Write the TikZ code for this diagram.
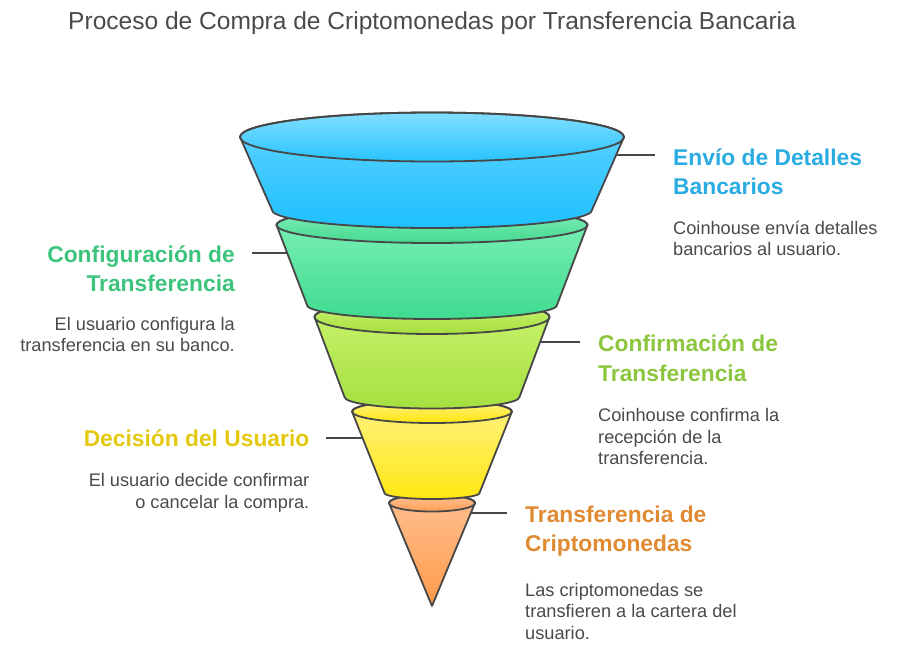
\documentclass[tikz,border=0pt]{standalone}
\usepackage{fontspec}
\setmainfont{Liberation Sans}
\definecolor{outl}{HTML}{474747}
\definecolor{txt}{HTML}{4A4A4A}
\definecolor{hblue}{HTML}{2AABE2}
\definecolor{hgreen}{HTML}{3CC47C}
\definecolor{hlime}{HTML}{8CC63F}
\definecolor{hyellow}{HTML}{E3C80E}
\definecolor{horange}{HTML}{E08A32}
\definecolor{bluE1}{HTML}{82DEFF}\definecolor{bluE2}{HTML}{28C3FF}
\definecolor{bluB1}{HTML}{62D4FF}\definecolor{bluB2}{HTML}{1EC0FF}
\definecolor{grnE1}{HTML}{86F2BF}\definecolor{grnE2}{HTML}{45D88F}
\definecolor{grnB1}{HTML}{80F2B9}\definecolor{grnB2}{HTML}{40DB90}
\definecolor{limE1}{HTML}{CFF47A}\definecolor{limE2}{HTML}{A5DF3C}
\definecolor{limB1}{HTML}{CAF46E}\definecolor{limB2}{HTML}{A6E040}
\definecolor{yelE1}{HTML}{FFF28A}\definecolor{yelE2}{HTML}{FFE50A}
\definecolor{yelB1}{HTML}{FFF385}\definecolor{yelB2}{HTML}{FFE712}
\definecolor{orgE1}{HTML}{FFC496}\definecolor{orgE2}{HTML}{FF9D55}
\definecolor{orgB1}{HTML}{FFC092}\definecolor{orgB2}{HTML}{FF9A48}
\begin{document}
\begin{tikzpicture}[x=1pt,y=1pt,
  edge/.style={draw=outl, line width=1.8pt, line join=round},
  conn/.style={draw=outl, line width=1.6pt},
  head/.style={font=\fontsize{22.8}{29.4}\selectfont\bfseries, inner sep=0pt},
  body/.style={font=\fontsize{18.2}{21.5}\selectfont, text=txt, inner sep=0pt},
]
\useasboundingbox (0,0) rectangle (910,-670);

% ---- orange segment (tip)
\path[top color=orgB1, bottom color=orgB2] (389,-503) -- (432,-606) -- (475,-503)
  arc[start angle=0,end angle=180,x radius=43,y radius=8.5] -- cycle;
\path[top color=orgE1, bottom color=orgE2] (432,-503) ellipse[x radius=43,y radius=8.5];
\draw[edge] (389,-503) -- (432,-606) -- (475,-503)
  arc[start angle=0,end angle=180,x radius=43,y radius=8.5] -- cycle;
\draw[edge] (432,-503) ellipse[x radius=43,y radius=8.5];

% ---- yellow segment
\path[top color=yelB1, bottom color=yelB2] (352,-411.5) -- (384.5,-493)
  arc[start angle=180,end angle=360,x radius=47.5,y radius=6] -- (512,-411.5)
  arc[start angle=0,end angle=180,x radius=80,y radius=11.5] -- cycle;
\path[top color=yelE1, bottom color=yelE2] (432,-411.5) ellipse[x radius=80,y radius=11.5];
\draw[edge] (352,-411.5) -- (384.5,-493)
  arc[start angle=180,end angle=360,x radius=47.5,y radius=6] -- (512,-411.5)
  arc[start angle=0,end angle=180,x radius=80,y radius=11.5] -- cycle;
\draw[edge] (432,-411.5) ellipse[x radius=80,y radius=11.5];

% ---- lime segment
\path[top color=limB1, bottom color=limB2] (314.5,-317) -- (344.5,-397)
  arc[start angle=180,end angle=360,x radius=87.5,y radius=11.5] -- (549.5,-317)
  arc[start angle=0,end angle=180,x radius=117.5,y radius=17] -- cycle;
\path[top color=limE1, bottom color=limE2] (432,-317) ellipse[x radius=117.5,y radius=17];
\draw[edge] (314.5,-317) -- (344.5,-397)
  arc[start angle=180,end angle=360,x radius=87.5,y radius=11.5] -- (549.5,-317)
  arc[start angle=0,end angle=180,x radius=117.5,y radius=17] -- cycle;
\draw[edge] (432,-317) ellipse[x radius=117.5,y radius=17];

% ---- green segment
\path[top color=grnB1, bottom color=grnB2] (276.5,-225) -- (307,-305)
  arc[start angle=180,end angle=360,x radius=125,y radius=14] -- (587.5,-225)
  arc[start angle=0,end angle=180,x radius=155.5,y radius=18] -- cycle;
\path[top color=grnE1, bottom color=grnE2] (432,-225) ellipse[x radius=155.5,y radius=18];
\draw[edge] (276.5,-225) -- (307,-305)
  arc[start angle=180,end angle=360,x radius=125,y radius=14] -- (587.5,-225)
  arc[start angle=0,end angle=180,x radius=155.5,y radius=18] -- cycle;
\draw[edge] (432,-225) ellipse[x radius=155.5,y radius=18];

% ---- blue segment
\path[top color=bluB1, bottom color=bluB2] (240,-137) -- (272,-210)
  arc[start angle=180,end angle=360,x radius=160,y radius=18] -- (624,-137)
  arc[start angle=0,end angle=180,x radius=192,y radius=24.5] -- cycle;
\path[top color=bluE1, bottom color=bluE2] (432,-137) ellipse[x radius=192,y radius=24.5];
\draw[edge] (240,-137) -- (272,-210)
  arc[start angle=180,end angle=360,x radius=160,y radius=18] -- (624,-137)
  arc[start angle=0,end angle=180,x radius=192,y radius=24.5] -- cycle;
\draw[edge] (432,-137) ellipse[x radius=192,y radius=24.5];

% ---- connector anchor points
\coordinate (b1) at (616,-155);   \coordinate (b2) at (655,-155);
\coordinate (g1) at (287.2,-253); \coordinate (g2) at (252,-253);
\coordinate (l1) at (540.1,-342); \coordinate (l2) at (580,-342);
\coordinate (y1) at (362.6,-438); \coordinate (y2) at (326,-438);
\coordinate (o1) at (470.8,-513); \coordinate (o2) at (507,-513);
\draw[conn] (b1) -- (b2);
\draw[conn] (g1) -- (g2);
\draw[conn] (l1) -- (l2);
\draw[conn] (y1) -- (y2);
\draw[conn] (o1) -- (o2);

% ---- title
\node[anchor=base west, inner sep=0pt, text=txt, font=\fontsize{24.55}{28}\selectfont] (title) at (68,-29.3)
  {Proceso de Compra de Criptomonedas por Transferencia Bancaria};

% ---- texts (base anchor = baseline of the last line)
\node[head, text=hblue, anchor=base west, align=left] (hb) at (673,-194.4) {Envío de Detalles\\Bancarios};
\node[body, anchor=base west, align=left] (tb) at (673,-255.5) {Coinhouse envía detalles\\bancarios al usuario.};

\node[head, text=hgreen, anchor=base east, align=right] (hg) at (235,-291.7) {Configuración de\\Transferencia};
\node[body, anchor=base east, align=right] (tg) at (235,-351.5) {El usuario configura la\\transferencia en su banco.};

\node[head, text=hlime, anchor=base west, align=left] (hl) at (598,-381.1) {Confirmación de\\Transferencia};
\node[body, anchor=base west, align=left] (tl) at (598,-464.7) {Coinhouse confirma la\\recepción de la\\transferencia.};

\node[head, text=hyellow, anchor=base east, align=right] (hy) at (309.5,-446.7) {Decisión del Usuario};
\node[body, anchor=base east, align=right] (ty) at (309.5,-508.2) {El usuario decide confirmar\\o cancelar la compra.};

\node[head, text=horange, anchor=base west, align=left] (ho) at (525,-551.7) {Transferencia de\\Criptomonedas};
\node[body, anchor=base west, align=left] (to) at (525,-639) {Las criptomonedas se\\transfieren a la cartera del\\usuario.};
\end{tikzpicture}
\end{document}
